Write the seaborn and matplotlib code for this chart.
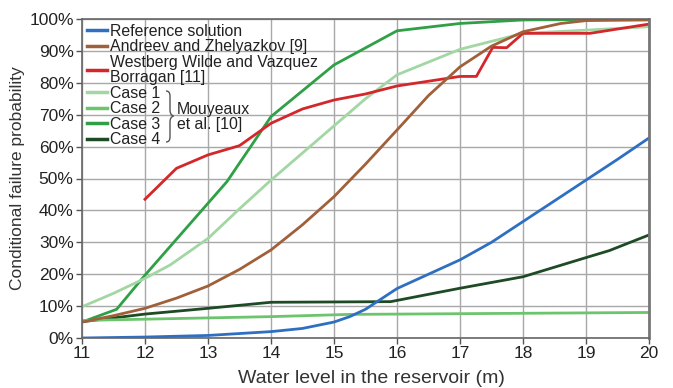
import numpy as np
import pandas as pd
import seaborn as sns
import matplotlib.pyplot as plt
from matplotlib.lines import Line2D
from matplotlib.path import Path
from matplotlib.patches import PathPatch
from matplotlib.ticker import PercentFormatter

# values (water level in m, probability in %)
ref_x = [11, 12, 13, 14, 14.5, 15, 15.25, 15.5, 16, 16.5, 17, 17.5, 18, 18.5, 19, 19.5, 20]
ref_y = [0, 0.3, 0.8, 2, 3, 5, 6.7, 9, 15.5, 20, 24.5, 30, 36.5, 43, 49.5, 56, 62.7]

andreev_x = [11, 11.5, 12, 12.5, 13, 13.5, 14, 14.5, 15, 15.5, 16, 16.5, 17, 17.5, 18, 18.6, 19, 20]
andreev_y = [5, 7, 9.3, 12.5, 16.3, 21.5, 27.6, 35.5, 44.3, 54.5, 65.2, 76, 85, 91.5, 96, 98.6, 99.5, 99.7]

westberg_x = [12, 12.5, 13, 13.5, 14, 14.5, 15, 15.5, 16, 16.5, 17, 17.26, 17.52, 17.74, 18, 19.06, 20]
westberg_y = [43.5, 53.2, 57.4, 60.3, 67.3, 71.8, 74.6, 76.5, 79, 80.5, 82, 82, 91.1, 91, 95.5, 95.5, 98.4]

case1_x = [11, 11.5, 12, 12.4, 13, 13.5, 14, 14.5, 15, 15.5, 16, 16.5, 17, 17.5, 18, 19, 20]
case1_y = [9.8, 14, 18.7, 22.9, 31.2, 40.5, 49.5, 58, 66.5, 75, 82.5, 86.5, 90.5, 93, 95.5, 96.5, 97.6]

case2_x = [11, 14, 15.25, 20]
case2_y = [5.5, 6.7, 7.4, 8.0]

case3_x = [11, 11.55, 12, 13.3, 14, 15, 16, 17, 18, 20]
case3_y = [5, 9, 19.7, 49, 69.4, 85.6, 96.3, 98.6, 99.7, 100]

case4_x = [11, 12, 13, 14, 15, 15.9, 17, 18, 19, 19.37, 20]
case4_y = [5.1, 7.5, 9.3, 11.2, 11.3, 11.4, 15.6, 19.2, 25.2, 27.4, 32.3]

names = ['Reference solution', 'Andreev and Zhelyazkov [9]',
         'Westberg Wilde and Vazquez\nBorragan [11]',
         'Case 1', 'Case 2', 'Case 3', 'Case 4']
colors = ['#2F6FC2', '#A0603A', '#D3272B', '#A2D7A4', '#6CC46C', '#2FA046', '#1E4A25']

series = [(ref_x, ref_y), (andreev_x, andreev_y), (westberg_x, westberg_y),
          (case1_x, case1_y), (case2_x, case2_y), (case3_x, case3_y), (case4_x, case4_y)]

frames = []
for name, (xs, ys) in zip(names, series):
    frames.append(pd.DataFrame({'level': xs, 'prob': ys, 'series': name}))
df = pd.concat(frames, ignore_index=True)

plt.rcParams['font.family'] = ['Liberation Sans', 'DejaVu Sans']

W, H = 673, 388
fig = plt.figure(figsize=(W / 100, H / 100), dpi=100)
ax = fig.add_axes([82 / W, 50 / H, 567 / W, 319 / H])

# draw in reverse so that the reference line sits on top like in the original
order = names[::-1]
sns.lineplot(data=df, x='level', y='prob', hue='series', hue_order=order,
             palette=dict(zip(names, colors)), estimator=None, sort=False,
             linewidth=2.0, legend=False, ax=ax)

ax.set_xlim(11, 20)
ax.set_ylim(0, 100)
ax.set_xticks(range(11, 21))
ax.set_yticks(range(0, 101, 10))
ax.yaxis.set_major_formatter(PercentFormatter(decimals=0))
ax.grid(True, color='#A8A8A8', linewidth=1.0)
ax.set_axisbelow(True)
for side in ['left', 'bottom', 'top']:
    ax.spines[side].set_color('#666666')
    ax.spines[side].set_linewidth(1.2)
ax.spines['right'].set_color('#777777')
ax.spines['right'].set_linewidth(2.0)
ax.tick_params(axis='both', labelsize=12.5, colors='#555555', labelcolor='#222222',
               length=4, width=1.0, pad=2)

ax.set_xlabel('Water level in the reservoir (m)', fontsize=14, color='#333333', labelpad=3)
ax.xaxis.set_label_coords(0.511, -0.1)
ax.set_ylabel('Conditional failure probability', fontsize=12.5, color='#333333', labelpad=3)

handles = [Line2D([0], [0], color=c, lw=2.5) for c in colors]
leg = ax.legend(handles, names, loc='upper left', frameon=False, fontsize=11.4,
                handlelength=1.3, handletextpad=0.2, labelspacing=0.03,
                borderaxespad=0.2, borderpad=0.1)
for t in leg.get_texts():
    t.set_color('#222222')
    t.set_linespacing(1.05)


# thin curly brace grouping Case 1..4, given in pixel coords of the figure
def px(x, y):
    return ((x - 82) / 567, (338 - y) / 319)


brace = [(166, 91), (170, 91), (170, 96), (170, 110), (170, 115), (173.5, 116),
         (170, 117), (170, 122), (170, 137), (170, 142), (166, 142)]
codes = [Path.MOVETO, Path.CURVE3, Path.CURVE3, Path.LINETO, Path.CURVE3, Path.CURVE3,
         Path.CURVE3, Path.CURVE3, Path.LINETO, Path.CURVE3, Path.CURVE3]
ax.add_patch(PathPatch(Path([px(*p) for p in brace], codes), transform=ax.transAxes,
                       fill=False, edgecolor='#555555', linewidth=1.0, clip_on=False))

tx, ty = px(177, 117)
ax.text(tx, ty, 'Mouyeaux\net al. [10]', transform=ax.transAxes, fontsize=11.4,
        color='#222222', va='center', ha='left', linespacing=1.0)

fig.savefig('out.png', dpi=100)
